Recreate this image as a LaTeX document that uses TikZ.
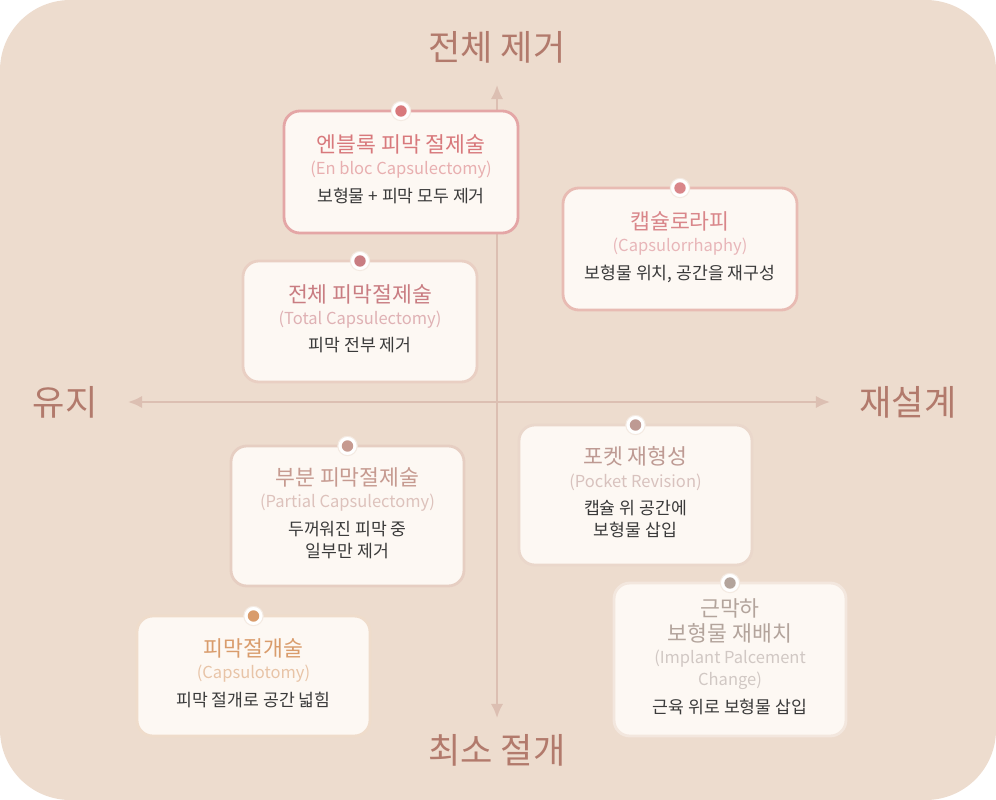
\documentclass[tikz,border=0pt]{standalone}
\usepackage{fontspec}
\setmainfont{Noto Sans CJK KR}
\usetikzlibrary{arrows.meta}
\definecolor{bgc}{HTML}{EDDCCE}
\definecolor{boxc}{HTML}{FDF8F3}
\definecolor{axisc}{HTML}{DCBFB2}
\definecolor{axtext}{HTML}{B27A6C}
\definecolor{desc}{HTML}{3A3A3A}
\definecolor{cA}{HTML}{D8797C}\definecolor{bA}{HTML}{E4A6A6}
\definecolor{cB}{HTML}{D9868A}\definecolor{bB}{HTML}{E8BBB3}
\definecolor{cC}{HTML}{C97D82}\definecolor{bC}{HTML}{E9CFC3}
\definecolor{cD}{HTML}{C69A90}\definecolor{bD}{HTML}{E6CEC2}
\definecolor{cE}{HTML}{BE9A93}\definecolor{bE}{HTML}{EAD7CB}
\definecolor{cF}{HTML}{D99C6C}\definecolor{bF}{HTML}{EFDCCB}
\definecolor{cG}{HTML}{B3A49C}\definecolor{bG}{HTML}{F3E7DE}
\tikzset{
  card/.style={draw=#1,line width=1.6pt,fill=boxc,rounded corners=9pt},
  pin/.style={circle,fill=white,draw=bgc!60,line width=0.6pt,inner sep=0pt,minimum size=11pt},
  dot/.style={circle,fill=#1,inner sep=0pt,minimum size=6.5pt},
  axlabel/.style={text=axtext,font=\fontsize{20}{24}\selectfont},
}
\newcommand{\ttl}[2]{\textcolor{#1}{\fontsize{12.3}{14}\selectfont #2}}
\newcommand{\eng}[2]{\textcolor{#1!60}{\fontsize{9.4}{11}\selectfont #2}}
\newcommand{\dsc}[1]{\textcolor{desc}{\fontsize{9.8}{12}\selectfont #1}}
\newcommand{\card}[8]{% x1 y1 x2 y2 dot border name text
  \draw[card=#6] (#1,#2) rectangle (#3,#4);
  \node[pin] at ({(#1+#3)/2},#2) {};
  \node[dot=#5] at ({(#1+#3)/2},#2) {};
  \node (#7) at ({(#1+#3)/2},{(#2+#4)/2}) {\renewcommand\arraystretch{1.05}\begin{tabular}{c}#8\end{tabular}};
}
\begin{document}
\begin{tikzpicture}[x=0.02cm,y=-0.02cm]
\useasboundingbox (0,0) rectangle (996,800);
\fill[bgc,rounded corners=40pt] (0,0) rectangle (996,800);
% axes
\draw[axisc,line width=1.3pt,{Latex[length=8pt,width=7pt]}-{Latex[length=8pt,width=7pt]}] (128,402) -- (830,402);
\draw[axisc,line width=1.3pt,{Latex[length=8pt,width=7pt]}-{Latex[length=8pt,width=7pt]}] (497,718) -- (497,85);
\node[axlabel] (top) at (497,47) {전체 제거};
\node[axlabel] (bot) at (497,750) {최소 절개};
\node[axlabel] (lft) at (65,402) {유지};
\node[axlabel] (rgt) at (908,402) {재설계};
% cards
\card{284}{111}{518}{233}{cA}{bA}{enbloc}{\ttl{cA}{엔블록 피막 절제술}\\\eng{cA}{(En bloc Capsulectomy)}\\[3pt]\dsc{보형물 + 피막 모두 제거}}
\card{563}{188}{797}{310}{cB}{bB}{rhaphy}{\ttl{cB}{캡슐로라피}\\\eng{cB}{(Capsulorrhaphy)}\\[3pt]\dsc{보형물 위치, 공간을 재구성}}
\card{243}{261}{477}{382}{cC}{bC}{total}{\ttl{cC}{전체 피막절제술}\\\eng{cC}{(Total Capsulectomy)}\\[3pt]\dsc{피막 전부 제거}}
\card{231}{446}{464}{586}{cD}{bD}{partial}{\ttl{cD}{부분 피막절제술}\\\eng{cD}{(Partial Capsulectomy)}\\[3pt]\dsc{두꺼워진 피막 중}\\\dsc{일부만 제거}}
\card{519}{425}{752}{565}{cE}{bE}{pocket}{\ttl{cE}{포켓 재형성}\\\eng{cE}{(Pocket Revision)}\\[3pt]\dsc{캡슐 위 공간에}\\\dsc{보형물 삽입}}
\card{137}{616}{370}{736}{cF}{bF}{tomy}{\ttl{cF}{피막절개술}\\\eng{cF}{(Capsulotomy)}\\[3pt]\dsc{피막 절개로 공간 넓힘}}
\card{614}{583}{846}{736}{cG}{bG}{implant}{\ttl{cG}{근막하}\\\ttl{cG}{보형물 재배치}\\\eng{cG}{(Implant Palcement}\\\eng{cG}{Change)}\\[3pt]\dsc{근육 위로 보형물 삽입}}
\end{tikzpicture}
\end{document}
